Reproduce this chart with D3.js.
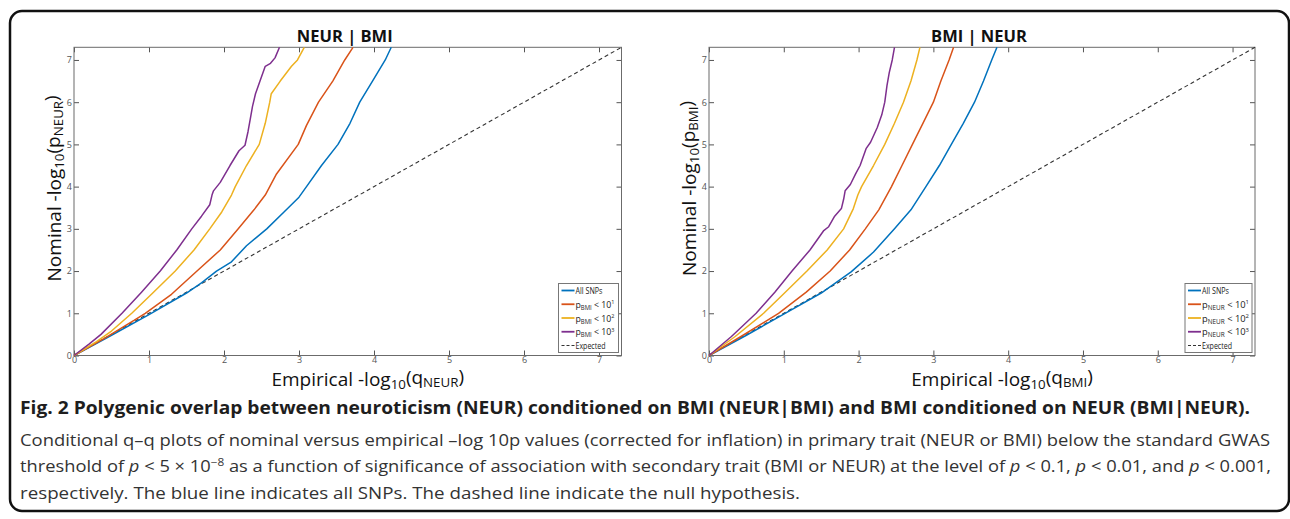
<!DOCTYPE html>
<html>
<head>
<meta charset="utf-8">
<script src="https://cdn.jsdelivr.net/npm/d3@7"></script>
<style>
  body { margin: 0; background: #fff; }
  text { font-family: "Open Sans", "Noto Sans", sans-serif; }
</style>
</head>
<body>
<svg id="fig" width="1290" height="519"></svg>
<script>
// axis limit = -log10(5e-8)
var maxLog = 7.3;
var tickVals = [0, 1, 2, 3, 4, 5, 6, 7];
var expectedLine = [[0, 0], [7.3, 7.3]];

// NEUR | BMI  (x = empirical, y = nominal)
var neurAll = [[0,0],[0.5,0.48],[1,0.97],[1.5,1.48],[1.7,1.72],[1.9,2.0],[2.1,2.22],[2.3,2.6],[2.57,3.0],[2.8,3.4],[3.0,3.75],[3.1,4.0],[3.3,4.5],[3.52,5.0],[3.68,5.5],[3.81,6.0],[3.98,6.5],[4.15,7.0],[4.23,7.3]];
var neurP1 = [[0,0],[0.4,0.4],[0.8,0.83],[0.95,1.0],[1.3,1.45],[1.64,2.0],[1.95,2.5],[2.19,3.0],[2.4,3.45],[2.55,3.8],[2.7,4.3],[2.99,5.0],[3.1,5.45],[3.26,6.0],[3.45,6.5],[3.61,7.0],[3.72,7.3]];
var neurP2 = [[0,0],[0.3,0.33],[0.5,0.58],[0.77,1.0],[1.05,1.48],[1.35,2.0],[1.6,2.5],[1.81,3.0],[1.97,3.4],[2.1,3.8],[2.15,4.0],[2.3,4.5],[2.47,5.0],[2.55,5.5],[2.61,6.0],[2.63,6.2],[2.75,6.5],[2.9,6.85],[2.98,7.0],[3.07,7.3]];
var neurP3 = [[0,0],[0.2,0.27],[0.36,0.5],[0.64,1.0],[0.9,1.5],[1.15,2.0],[1.37,2.5],[1.57,3.0],[1.7,3.3],[1.81,3.57],[1.84,3.8],[1.86,3.9],[1.95,4.1],[2.08,4.5],[2.2,4.85],[2.28,4.98],[2.32,5.3],[2.35,5.6],[2.38,5.9],[2.42,6.2],[2.48,6.5],[2.55,6.85],[2.62,6.92],[2.68,7.05],[2.74,7.3]];

// BMI | NEUR
var bmiAll = [[0,0],[0.5,0.48],[1,0.98],[1.5,1.48],[1.9,1.98],[2.2,2.45],[2.48,3.0],[2.7,3.45],[2.9,4.0],[3.08,4.5],[3.24,5.0],[3.4,5.5],[3.55,6.0],[3.67,6.5],[3.78,7.0],[3.85,7.3]];
var bmiP1 = [[0,0],[0.4,0.42],[0.93,1.0],[1.3,1.5],[1.62,2.0],[1.88,2.5],[2.09,3.0],[2.27,3.45],[2.44,4.0],[2.58,4.5],[2.72,5.0],[2.86,5.5],[3.0,6.0],[3.1,6.5],[3.21,7.0],[3.27,7.3]];
var bmiP2 = [[0,0],[0.35,0.45],[0.73,1.0],[1.02,1.5],[1.31,2.0],[1.58,2.5],[1.8,3.0],[1.93,3.48],[1.99,3.8],[2.04,4.0],[2.2,4.5],[2.35,5.0],[2.48,5.5],[2.6,6.0],[2.7,6.5],[2.78,7.0],[2.82,7.3]];
var bmiP3 = [[0,0],[0.3,0.45],[0.63,1.0],[0.88,1.5],[1.11,2.0],[1.35,2.5],[1.53,2.95],[1.6,3.05],[1.68,3.3],[1.77,3.48],[1.8,3.7],[1.82,3.9],[1.89,4.05],[1.96,4.3],[2.02,4.5],[2.1,4.9],[2.16,5.05],[2.25,5.4],[2.31,5.7],[2.35,6.0],[2.38,6.4],[2.41,6.7],[2.45,7.0],[2.48,7.3]];

var legendLevels = ["1", "2", "3"];

// matlab default colours
var colors = ["#0072bd", "#d95319", "#edb120", "#7e2f8e"];

var svg = d3.select("#fig");

// rounded frame round the whole figure
svg.append("rect")
    .attr("x", 10).attr("y", 11)
    .attr("width", 1279).attr("height", 500)
    .attr("rx", 12)
    .attr("fill", "none")
    .attr("stroke", "#111")
    .attr("stroke-width", 2.5);

function subLabel(sel, parts) {
    // parts: [text, isSub]
    parts.forEach(function (p, i) {
        var t = sel.append("tspan").text(p[0]);
        if (p[1]) t.attr("font-size", "0.7em").attr("dy", "0.25em");
        else if (i > 0 && parts[i - 1][1]) t.attr("dy", "-0.25em");
    });
}

function drawPanel(p) {
    var x = d3.scaleLinear().domain([0, maxLog]).range([p.left, p.right]);
    var y = d3.scaleLinear().domain([0, maxLog]).range([p.bottom, p.top]);
    var g = svg.append("g");

    g.append("text")
        .attr("x", (p.left + p.right) / 2 - 3)
        .attr("y", p.top - 5)
        .attr("text-anchor", "middle")
        .style("font-size", "16.5px")
        .style("font-weight", "bold")
        .attr("fill", "#111")
        .text(p.title);

    // inward ticks on all four sides, matlab style
    function styleAxis(a) {
        a.select(".domain").remove();
        a.selectAll(".tick line").attr("stroke", "#555");
        a.selectAll(".tick text").attr("fill", "#555").style("font-size", "9px")
            .style("font-family", "'Open Sans', sans-serif");
    }
    g.append("g").attr("transform", "translate(0," + p.bottom + ")")
        .call(d3.axisBottom(x).tickValues(tickVals).tickSize(-5).tickPadding(1).tickFormat(d3.format("d")))
        .call(styleAxis);
    g.append("g").attr("transform", "translate(0," + p.top + ")")
        .call(d3.axisTop(x).tickValues(tickVals).tickSize(-5).tickFormat(""))
        .call(styleAxis);
    g.append("g").attr("transform", "translate(" + p.left + ",0)")
        .call(d3.axisLeft(y).tickValues(tickVals).tickSize(-5).tickPadding(2).tickFormat(d3.format("d")))
        .call(styleAxis);
    g.append("g").attr("transform", "translate(" + p.right + ",0)")
        .call(d3.axisRight(y).tickValues(tickVals).tickSize(-5).tickFormat(""))
        .call(styleAxis);

    g.append("rect")
        .attr("x", p.left).attr("y", p.top)
        .attr("width", p.right - p.left).attr("height", p.bottom - p.top)
        .attr("fill", "none").attr("stroke", "#6b6b6b").attr("stroke-width", 1);

    var line = d3.line().x(function (d) { return x(d[0]); }).y(function (d) { return y(d[1]); });

    g.append("path").datum(expectedLine)
        .attr("d", line).attr("fill", "none")
        .attr("stroke", "#333").attr("stroke-width", 1.1)
        .attr("stroke-dasharray", "4,3");

    p.series.forEach(function (s, i) {
        g.append("path").datum(s)
            .attr("d", line).attr("fill", "none")
            .attr("stroke", colors[i]).attr("stroke-width", 1.5)
            .attr("stroke-linejoin", "round");
    });

    // axis titles
    var xl = g.append("text")
        .attr("x", (p.left + p.right) / 2 + 20)
        .attr("y", p.bottom + 30)
        .attr("text-anchor", "middle")
        .style("font-size", "19px")
        .attr("fill", "#111");
    subLabel(xl, [["Empirical -log", 0], ["10", 1], ["(q", 0], [p.xSub, 1], [")", 0]]);

    var yl = g.append("text")
        .attr("transform", "translate(" + (p.left - 13) + "," + ((p.top + p.bottom) / 2 - 13) + ") rotate(-90)")
        .attr("text-anchor", "middle")
        .style("font-size", "19px")
        .attr("fill", "#111");
    subLabel(yl, [["Nominal -log", 0], ["10", 1], ["(p", 0], [p.ySub, 1], [")", 0]]);

    // legend
    var lw = p.legendWidth, lh = 69;
    var lx = p.right - 3 - lw, ly = p.bottom - 3 - lh;
    var lg = g.append("g").attr("transform", "translate(" + lx + "," + ly + ")");
    lg.append("rect").attr("width", lw).attr("height", lh)
        .attr("fill", "#fff").attr("stroke", "#777").attr("stroke-width", 1);
    var rows = [0, 1, 2, 3, 4];
    var rowY = d3.scalePoint().domain(rows).range([7, 62]);
    rows.forEach(function (r) {
        var yy = rowY(r);
        var ln = lg.append("line").attr("x1", 3).attr("x2", 16).attr("y1", yy).attr("y2", yy)
            .attr("stroke-width", r === 4 ? 1 : 1.8)
            .attr("stroke", r === 4 ? "#333" : colors[r]);
        if (r === 4) ln.attr("stroke-dasharray", "3,2");
        var t = lg.append("text").attr("x", 17).attr("y", yy + 3.5)
            .style("font-size", "9.5px").attr("fill", "#222");
        if (r === 0) t.text("All SNPs").attr("textLength", 27).attr("lengthAdjust", "spacingAndGlyphs");
        else if (r === 4) t.text("Expected").attr("textLength", 30).attr("lengthAdjust", "spacingAndGlyphs");
        else {
            t.append("tspan").text("p");
            t.append("tspan").text(p.legendSub).attr("font-size", "6.5px").attr("dy", "2");
            t.append("tspan").text(" < 10").attr("dy", "-2");
            t.append("tspan").text(legendLevels[r - 1]).attr("font-size", "6px").attr("dy", "-3.5");
            t.attr("textLength", p.legendText).attr("lengthAdjust", "spacingAndGlyphs");
        }
    });
}

drawPanel({
    left: 74, right: 621.5, top: 47.3, bottom: 355.5,
    title: "NEUR | BMI", xSub: "NEUR", ySub: "NEUR", legendSub: "BMI",
    legendWidth: 60, legendText: 39,
    series: [neurAll, neurP1, neurP2, neurP3]
});
drawPanel({
    left: 709, right: 1255, top: 47.3, bottom: 355.5,
    title: "BMI | NEUR", xSub: "BMI", ySub: "BMI", legendSub: "NEUR",
    legendWidth: 67, legendText: 47,
    series: [bmiAll, bmiP1, bmiP2, bmiP3]
});

// caption
var cap = svg.append("g").attr("fill", "#2b2b2b");
cap.append("text").attr("x", 20).attr("y", 414)
    .style("font-size", "17.5px").style("font-weight", "bold").attr("fill", "#1e1e1e")
    .attr("textLength", 1230).attr("lengthAdjust", "spacingAndGlyphs")
    .text("Fig. 2 Polygenic overlap between neuroticism (NEUR) conditioned on BMI (NEUR|BMI) and BMI conditioned on NEUR (BMI|NEUR).");

cap.append("text").attr("x", 20).attr("y", 446)
    .style("font-size", "15.5px").attr("fill", "#333")
    .attr("textLength", 1250).attr("lengthAdjust", "spacingAndGlyphs")
    .text("Conditional q\u2013q plots of nominal versus empirical \u2013log 10p values (corrected for inflation) in primary trait (NEUR or BMI) below the standard GWAS");

var l3 = cap.append("text").attr("x", 20).attr("y", 472)
    .style("font-size", "15.5px").attr("fill", "#333")
    .attr("textLength", 1251).attr("lengthAdjust", "spacingAndGlyphs");
l3.append("tspan").text("threshold of ");
l3.append("tspan").text("p").style("font-style", "italic");
l3.append("tspan").text(" < 5 \u00d7 10");
l3.append("tspan").text("\u22128").attr("font-size", "10px").attr("dy", "-6");
l3.append("tspan").text(" as a function of significance of association with secondary trait (BMI or NEUR) at the level of ").attr("dy", "6");
l3.append("tspan").text("p").style("font-style", "italic");
l3.append("tspan").text(" < 0.1, ");
l3.append("tspan").text("p").style("font-style", "italic");
l3.append("tspan").text(" < 0.01, and ");
l3.append("tspan").text("p").style("font-style", "italic");
l3.append("tspan").text(" < 0.001,");

cap.append("text").attr("x", 20).attr("y", 499)
    .style("font-size", "15.5px").attr("fill", "#333")
    .attr("textLength", 780).attr("lengthAdjust", "spacingAndGlyphs")
    .text("respectively. The blue line indicates all SNPs. The dashed line indicate the null hypothesis.");
</script>
</body>
</html>
